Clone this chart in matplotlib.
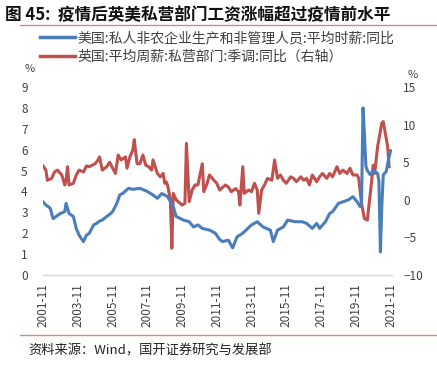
import matplotlib
matplotlib.use("Agg")
import matplotlib.pyplot as plt
import pandas as pd
from matplotlib.lines import Line2D

plt.rcParams['font.family'] = ['Noto Sans CJK SC', 'DejaVu Sans']

# 美国:私人非农企业生产和非管理人员:平均时薪:同比 (left axis, %)
us_months = ['2001-11', '2002-01', '2002-04', '2002-06', '2002-08', '2002-11', '2003-02', '2003-03',
             '2003-05', '2003-08', '2003-10', '2003-12', '2004-03', '2004-05', '2004-07', '2004-10',
             '2004-12', '2005-02', '2005-04', '2005-07', '2005-09', '2005-11', '2006-02', '2006-04',
             '2006-06', '2006-10', '2007-01', '2007-06', '2007-11', '2008-03', '2008-06', '2008-09',
             '2008-11', '2009-01', '2009-05', '2009-07', '2009-12', '2010-04', '2010-07', '2010-10',
             '2011-01', '2011-06', '2011-10', '2012-01', '2012-03', '2012-07', '2012-10', '2013-01',
             '2013-05', '2013-11', '2014-03', '2014-07', '2014-12', '2015-02', '2015-05', '2015-09',
             '2015-12', '2016-05', '2016-10', '2017-01', '2017-05', '2017-08', '2017-10', '2018-02',
             '2018-05', '2018-07', '2018-11', '2019-02', '2019-06', '2019-09', '2019-12', '2020-02',
             '2020-03', '2020-04', '2020-05', '2020-06', '2020-07', '2020-09', '2020-11', '2021-02',
             '2021-03', '2021-04', '2021-05', '2021-06', '2021-08', '2021-10', '2021-11']
us_wage = [3.5, 3.35, 3.2, 2.7, 2.8, 2.95, 3.03, 3.43,
           2.95, 2.8, 2.23, 1.9, 1.6, 1.9, 2.0, 2.4,
           2.47, 2.58, 2.63, 2.8, 2.9, 3.03, 3.43, 3.83,
           3.9, 4.15, 4.1, 4.15, 4.0, 3.83, 3.67, 3.9,
           3.83, 3.75, 3.27, 2.8, 2.63, 2.55, 2.3, 2.4,
           2.23, 2.15, 2.0, 1.7, 1.6, 1.67, 1.3, 1.83,
           2.0, 2.4, 2.55, 2.3, 2.15, 1.6, 2.15, 2.3,
           2.63, 2.55, 2.55, 2.47, 2.23, 2.47, 2.23, 2.55,
           2.95, 3.03, 3.43, 3.5, 3.6, 3.75, 3.5, 3.27,
           3.5, 8.0, 6.7, 5.2, 5.0, 4.8, 5.0, 4.86,
           4.5, 1.1, 3.3, 4.8, 4.95, 5.66, 5.95]

# 英国:平均周薪:私营部门:季调:同比 (right axis, %)
uk_months = ['2001-11', '2002-01', '2002-02', '2002-05', '2002-07', '2002-09', '2002-12', '2003-02',
             '2003-03', '2003-04', '2003-05', '2003-08', '2003-10', '2003-12', '2004-03', '2004-05',
             '2004-07', '2004-11', '2005-01', '2005-02', '2005-04', '2005-07', '2005-09', '2006-01',
             '2006-03', '2006-05', '2006-08', '2006-09', '2006-11', '2007-01', '2007-02', '2007-04',
             '2007-06', '2007-08', '2007-10', '2007-12', '2008-02', '2008-03', '2008-06', '2008-08',
             '2008-10', '2008-11', '2008-12', '2009-01', '2009-03', '2009-04', '2009-05', '2009-07',
             '2009-11', '2010-01', '2010-02', '2010-04', '2010-06', '2010-08', '2010-10', '2011-01',
             '2011-02', '2011-04', '2011-06', '2011-09', '2011-11', '2012-01', '2012-05', '2012-07',
             '2012-09', '2012-12', '2013-02', '2013-03', '2013-05', '2013-06', '2013-09', '2013-11',
             '2014-01', '2014-03', '2014-04', '2014-06', '2014-08', '2014-10', '2015-01', '2015-03',
             '2015-05', '2015-07', '2015-09', '2015-11', '2016-02', '2016-04', '2016-06', '2016-09',
             '2016-11', '2017-01', '2017-03', '2017-05', '2017-08', '2017-10', '2017-12', '2018-03',
             '2018-05', '2018-07', '2018-10', '2018-12', '2019-02', '2019-05', '2019-07', '2019-09',
             '2019-12', '2020-01', '2020-03', '2020-05', '2020-07', '2020-09', '2020-11', '2020-12',
             '2021-02', '2021-05', '2021-06', '2021-09', '2021-10']
uk_wage = [4.5, 3.95, 2.6, 2.85, 3.7, 3.95, 3.3, 1.97,
           2.6, 4.4, 1.97, 2.2, 3.3, 3.95, 3.7, 4.5,
           4.4, 4.8, 5.3, 5.7, 3.95, 4.4, 5.0, 3.5,
           5.95, 5.3, 5.7, 4.2, 5.7, 6.6, 8.0, 4.8,
           4.8, 5.95, 4.6, 4.4, 3.95, 5.3, 3.5, 3.06,
           3.5, 2.2, 2.4, 1.97, 0.0, -6.45, 0.85, 0.0,
           -0.7, -0.47, 7.5, -0.25, 1.3, 1.97, 1.97, 4.8,
           1.08, 1.97, 3.3, 2.6, 2.2, 1.3, 1.97, 1.7,
           1.08, 1.5, 1.08, -0.7, 4.4, 0.85, 1.3, 1.08,
           2.2, 1.3, -1.8, 1.3, 1.97, 2.85, 2.6, 5.3,
           2.85, 3.3, 2.6, 2.2, 3.06, 2.85, 2.4, 3.06,
           2.6, 2.85, 1.97, 3.3, 2.4, 3.06, 3.5, 2.85,
           3.5, 3.06, 4.4, 3.5, 3.95, 3.5, 4.2, 3.3,
           3.3, 2.85, -0.5, -2.5, -2.7, 0.85, 4.6, 3.5,
           7.05, 10.2, 10.4, 7.05, 4.4]

tick_months = ['2001-11', '2003-11', '2005-11', '2007-11', '2009-11', '2011-11',
               '2013-11', '2015-11', '2017-11', '2019-11', '2021-11']

us_dates = pd.to_datetime(us_months, format='%Y-%m')
uk_dates = pd.to_datetime(uk_months, format='%Y-%m')
tick_dates = pd.to_datetime(tick_months, format='%Y-%m')

blue = '#4a7ebb'
red = '#c0504d'
tick_col = '#404040'

fig = plt.figure(figsize=(4.37, 3.73), dpi=100)
ax = fig.add_axes([43 / 437, 98 / 373, 349 / 437, 188 / 373])
ax2 = ax.twinx()

ax.plot(us_dates, us_wage, color=blue, lw=2.2, solid_joinstyle='round', zorder=3)
ax2.plot(uk_dates, uk_wage, color=red, lw=2.2, solid_joinstyle='round')
ax.set_zorder(ax2.get_zorder() + 1)
ax.patch.set_visible(False)

ax.set_xlim(pd.Timestamp('2001-11-01'), pd.Timestamp('2021-12-01'))
ax.set_ylim(0, 9)
ax.set_yticks(range(0, 10))
ax2.set_ylim(-10, 15)
ax2.set_yticks(range(-10, 16, 5))
ax.set_xticks(tick_dates)
ax.set_xticklabels(tick_months, rotation=90)

for a in (ax, ax2):
    for s in a.spines.values():
        s.set_visible(False)
ax.spines['bottom'].set_visible(True)
ax.spines['bottom'].set_color('#d9d9d9')
ax.spines['bottom'].set_linewidth(1.0)
ax.tick_params(axis='x', length=0, pad=6, labelsize=8.5, labelcolor=tick_col)
ax.tick_params(axis='y', length=0, pad=11, labelsize=8.5, labelcolor=tick_col)
ax2.tick_params(axis='y', length=0, pad=8, labelsize=8.5, labelcolor=tick_col)

# title and separators
fig.text(5 / 437, 1 - 15 / 373, '图 45:  疫情后英美私营部门工资涨幅超过疫情前水平',
         fontsize=12, fontweight='bold', va='center', ha='left', color='#111111')
fig.add_artist(Line2D([20 / 437, 1], [1 - 25 / 373] * 2, color='#d98585', lw=1.0))
fig.add_artist(Line2D([20 / 437, 1], [1 - 335 / 373] * 2, color='#d98585', lw=1.0))
fig.text(28 / 437, 1 - 351 / 373, '资料来源：Wind，国开证券研究与发展部',
         fontsize=9.5, va='center', ha='left', color='#222222')

fig.text(30 / 437, 1 - 69 / 373, '%', fontsize=8, ha='center', va='center', color=tick_col)
fig.text(413 / 437, 1 - 75 / 373, '%', fontsize=8, ha='center', va='center', color=tick_col)

handles = [Line2D([], [], color=blue, lw=2.5), Line2D([], [], color=red, lw=2.5)]
labels = ['美国:私人非农企业生产和非管理人员:平均时薪:同比', '英国:平均周薪:私营部门:季调:同比（右轴）']
fig.legend(handles, labels, loc='upper left', bbox_to_anchor=(40 / 437, 1 - 31 / 373),
           frameon=False, fontsize=10, handlelength=2.5, handletextpad=0.2,
           labelspacing=0.35, borderaxespad=0, borderpad=0, labelcolor='#404040')

fig.savefig('out.png', dpi=100)
